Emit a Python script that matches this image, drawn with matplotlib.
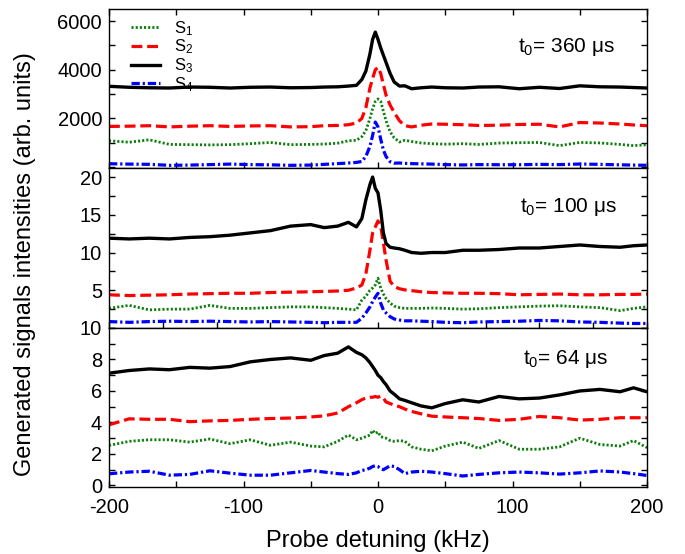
import matplotlib
matplotlib.use("Agg")
import matplotlib.pyplot as plt
from matplotlib.ticker import MultipleLocator, FixedLocator

plt.rcParams['font.family'] = ['Liberation Sans', 'DejaVu Sans']
plt.rcParams['mathtext.default'] = 'regular'
plt.rcParams['axes.unicode_minus'] = False

# Probe detuning grid (kHz), shared by all traces
detuning = [-200, -185, -170, -155, -140, -125, -110, -95, -80, -65,
            -50, -40, -30, -22, -16, -12, -9, -6, -4, -2,
            0, 2, 4, 6, 9, 12, 16, 20, 25, 32,
            40, 50, 63, 75, 90, 105, 120, 135, 150, 165,
            180, 190, 200]

# t0 = 360 us
top_s1 = [1080, 1020, 1120, 930, 920, 910, 920, 960, 1010, 920,
          930, 945, 980, 1080, 1100, 1250, 1500, 2000, 2400, 2700,
          2800, 2700, 2300, 1900, 1450, 1200, 1030, 1100, 1050, 990,
          960, 940, 960, 930, 985, 1000, 1010, 880, 1010, 990,
          930, 880, 917]
top_s2 = [1670, 1680, 1700, 1650, 1680, 1700, 1670, 1690, 1700, 1650,
          1660, 1700, 1710, 1740, 1810, 2000, 2450, 3250, 3650, 4000,
          4100, 3850, 3400, 2950, 2550, 2250, 1900, 1700, 1650, 1720,
          1770, 1760, 1740, 1710, 1720, 1750, 1760, 1650, 1830, 1810,
          1770, 1730, 1700]
top_s3 = [3320, 3280, 3260, 3250, 3290, 3280, 3250, 3280, 3290, 3260,
          3270, 3290, 3300, 3330, 3360, 3600, 3950, 4650, 5250, 5550,
          5250, 4900, 4600, 4300, 3850, 3500, 3330, 3340, 3220, 3260,
          3290, 3260, 3250, 3290, 3300, 3220, 3280, 3230, 3340, 3300,
          3290, 3270, 3250]
top_s4 = [136, 120, 110, 70, 80, 100, 120, 100, 90, 70,
          80, 110, 140, 165, 190, 230, 435, 850, 1300, 1850,
          1650, 1150, 700, 430, 220, 160, 165, 150, 140, 130,
          120, 100, 85, 100, 95, 95, 110, 100, 123, 110,
          90, 80, 70]

# t0 = 100 us
mid_s1 = [2.6, 3.0, 2.4, 2.5, 2.5, 3.0, 2.6, 2.6, 2.7, 2.8,
          2.8, 2.7, 2.6, 2.5, 2.4, 3.7, 4.2, 5.0, 5.3, 5.7,
          6.6, 5.3, 4.5, 3.9, 3.3, 2.9, 2.7, 2.6, 2.6, 2.6,
          2.65, 2.6, 2.5, 2.55, 2.7, 2.8, 2.9, 2.95, 2.8, 2.7,
          2.3, 2.6, 2.8]
mid_s2 = [4.4, 4.3, 4.35, 4.4, 4.5, 4.55, 4.6, 4.6, 4.7, 4.75,
          4.8, 4.85, 4.9, 5.0, 5.3, 5.7, 7.2, 10.3, 12.6, 13.4,
          14.2, 13.5, 11.3, 9.0, 6.2, 5.5, 5.2, 5.05, 4.95, 4.8,
          4.7, 4.65, 4.6, 4.6, 4.55, 4.4, 4.45, 4.5, 4.4, 4.4,
          4.45, 4.45, 4.5]
mid_s3 = [11.9, 11.8, 11.9, 11.8, 12.0, 12.1, 12.3, 12.6, 12.9, 13.5,
          13.7, 13.3, 13.5, 14.0, 13.4, 14.5, 17.0, 19.0, 20.0, 18.5,
          17.9, 15.6, 12.6, 11.2, 10.7, 10.6, 10.5, 10.3, 10.0, 9.9,
          10.0, 10.0, 10.3, 10.3, 10.4, 10.6, 10.6, 10.8, 11.0, 10.8,
          10.7, 10.9, 11.0]
mid_s4 = [0.85, 0.75, 0.85, 0.9, 0.85, 0.9, 0.85, 0.8, 0.85, 0.8,
          0.75, 0.7, 0.75, 0.75, 0.75, 1.3, 2.0, 2.8, 3.5, 4.1,
          4.6, 3.3, 2.4, 2.0, 1.5, 1.2, 1.05, 0.95, 0.95, 0.9,
          0.85, 0.75, 0.7, 0.8, 0.85, 0.9, 1.0, 0.95, 0.8, 0.75,
          0.65, 0.6, 0.6]

# t0 = 64 us
bot_s1 = [2.54, 2.8, 2.9, 2.9, 2.75, 2.95, 2.65, 2.9, 2.55, 2.75,
          2.5, 2.45, 2.8, 3.2, 2.9, 3.0, 3.1, 3.2, 3.5, 3.3,
          3.4, 3.1, 3.05, 3.0, 2.85, 2.8, 2.85, 2.8, 2.45, 2.3,
          2.2, 2.5, 2.75, 2.35, 2.85, 2.3, 2.3, 2.45, 3.0, 2.6,
          2.5, 2.85, 2.4]
bot_s2 = [3.85, 4.23, 4.2, 4.2, 4.05, 4.1, 4.13, 4.2, 4.25, 4.28,
          4.35, 4.42, 4.6, 5.0, 5.25, 5.45, 5.55, 5.6, 5.6, 5.65,
          5.6, 5.68, 5.55, 5.3, 5.2, 5.1, 5.0, 4.85, 4.7, 4.55,
          4.4, 4.35, 4.3, 4.25, 4.13, 4.2, 4.38, 4.3, 4.15, 4.2,
          4.3, 4.3, 4.3]
bot_s3 = [7.13, 7.3, 7.4, 7.35, 7.5, 7.45, 7.55, 7.85, 8.0, 8.1,
          7.95, 8.25, 8.4, 8.8, 8.45, 8.3, 8.1, 7.8, 7.55, 7.3,
          7.0, 6.85, 6.6, 6.4, 6.0, 5.8, 5.5, 5.4, 5.25, 5.05,
          4.93, 5.2, 5.44, 5.3, 5.65, 5.5, 5.55, 5.75, 6.0, 6.1,
          5.95, 6.2, 5.95]
bot_s4 = [0.74, 0.85, 0.9, 0.65, 0.7, 0.93, 0.78, 0.65, 0.65, 0.8,
          0.95, 0.85, 0.75, 0.7, 0.8, 0.95, 1.0, 1.1, 1.2, 1.25,
          1.2, 1.05, 1.0, 1.1, 1.25, 1.2, 1.0, 0.75, 0.85, 0.9,
          0.85, 0.75, 0.6, 0.7, 0.8, 0.85, 0.8, 0.72, 0.8, 0.92,
          0.85, 0.75, 0.63]

series_labels = ['S$_1$', 'S$_2$', 'S$_3$', 'S$_4$']
panel_titles = ['t$_0$= 360 μs', 't$_0$= 100 μs', 't$_0$= 64 μs']
x_ticks = [-200, -100, 0, 100, 200]

styles = [
    dict(color='#0a7d0a', lw=2.0, ls=(0, (0.75, 0.75))),
    dict(color='#ff0000', lw=2.3, ls=(0, (3.4, 1.5))),
    dict(color='#000000', lw=2.4, ls='-'),
    dict(color='#0000ff', lw=2.3, ls=(0, (2.6, 0.9, 0.7, 0.9))),
]

fig = plt.figure(figsize=(6.85, 5.54), dpi=100)
left, width = 109 / 685, 538 / 685
ax_top = fig.add_axes([left, 1 - 168 / 554, width, 159 / 554])
ax_mid = fig.add_axes([left, 1 - 328 / 554, width, 160 / 554])
ax_bot = fig.add_axes([left, 1 - 487 / 554, width, 159 / 554])

panels = [
    (ax_top, [top_s1, top_s2, top_s3, top_s4]),
    (ax_mid, [mid_s1, mid_s2, mid_s3, mid_s4]),
    (ax_bot, [bot_s1, bot_s2, bot_s3, bot_s4]),
]

for ax, data in panels:
    for vals, st, lab in zip(data, styles, series_labels):
        ax.plot(detuning, vals, label=lab, **st)
    ax.set_xlim(-200, 200)
    for sp in ax.spines.values():
        sp.set_linewidth(1.0)
    ax.tick_params(which='both', direction='in', right=True, labelsize=14.5,
                   width=1.0, length=4.5, pad=5)

# top panel
ax_top.set_ylim(-40, 6500)
ax_top.yaxis.set_major_locator(FixedLocator([2000, 4000, 6000]))
ax_top.yaxis.set_minor_locator(FixedLocator([0, 1000, 3000, 5000]))
ax_top.xaxis.set_major_locator(MultipleLocator(50))
ax_top.tick_params(axis='x', top=True, labelbottom=False)

# middle panel (its zero tick is left unlabelled; the bottom panel's 10 sits there)
ax_mid.set_ylim(0, 21.2)
ax_mid.yaxis.set_major_locator(FixedLocator([5, 10, 15, 20]))
ax_mid.yaxis.set_minor_locator(FixedLocator([0, 2.5, 7.5, 12.5, 17.5]))
ax_mid.xaxis.set_major_locator(MultipleLocator(40))
ax_mid.tick_params(axis='x', labelbottom=False)

# bottom panel
ax_bot.set_ylim(-0.1, 10.0)
ax_bot.yaxis.set_major_locator(MultipleLocator(2))
ax_bot.yaxis.set_minor_locator(MultipleLocator(1))
ax_bot.xaxis.set_major_locator(FixedLocator(x_ticks))
ax_bot.xaxis.set_minor_locator(MultipleLocator(50))
ax_bot.set_xticklabels([str(v) for v in x_ticks])
ax_bot.tick_params(axis='x', pad=8)
ax_bot.set_xlabel('Probe detuning (kHz)', fontsize=17, labelpad=9)

fig.text(25 / 685, 1 - 264 / 554, 'Generated signals intensities (arb. units)',
         rotation=90, ha='center', va='center', fontsize=17)

for ax, title, (tx, ty) in zip([ax_top, ax_mid, ax_bot], panel_titles,
                               [(0.85, 0.76), (0.854, 0.756), (0.848, 0.805)]):
    ax.text(tx, ty, title, transform=ax.transAxes, ha='center', va='center',
            fontsize=15)

ax_top.legend(loc='upper left', bbox_to_anchor=(0.022, 1.0), frameon=False,
              fontsize=12, handlelength=1.75, handletextpad=0.85,
              labelspacing=0.0, borderaxespad=0.2)

fig.savefig('out.png', dpi=100)
